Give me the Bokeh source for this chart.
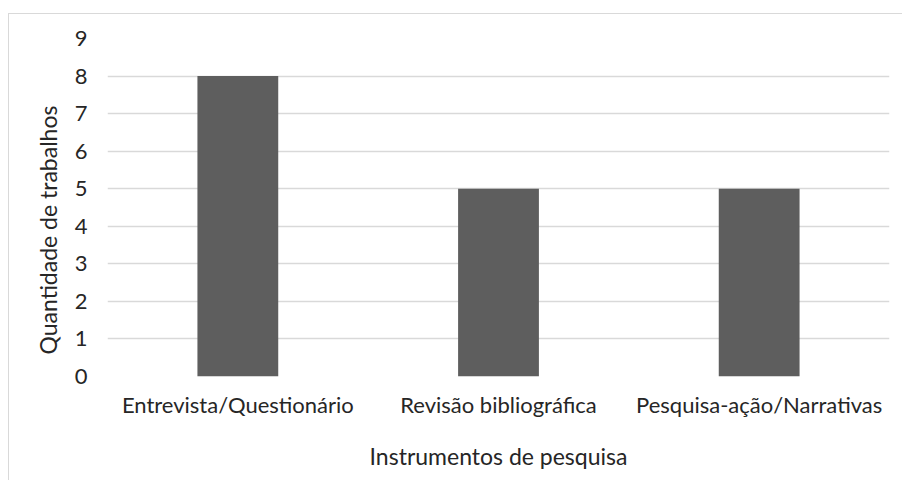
from bokeh.plotting import figure
from bokeh.models import Range1d, FactorRange, Title
from bokeh.embed import file_html
from bokeh.resources import INLINE

categories = ["Entrevista/Questionário", "Revisão bibliográfica", "Pesquisa-ação/Narrativas"]
values = [8, 5, 5]
y_ticks = [0, 1, 2, 3, 4, 5, 6, 7, 8, 9]

FONT = "Lato"
TXT = "#262626"

p = figure(x_range=FactorRange(*categories), y_range=Range1d(0, 9),
           width=894, height=467, output_backend="svg", toolbar_location=None,
           min_border_left=98, min_border_right=14, min_border_top=24, min_border_bottom=105,
           margin=(13, 0, 0, 8))
p.styles = {"border-top": "1px solid #d9d9d9", "border-left": "1px solid #d9d9d9"}

p.vbar(x=categories, top=values, width=0.31, fill_color="#5e5e5e", line_color=None)

p.outline_line_color = None
p.xgrid.grid_line_color = None
p.ygrid.grid_line_color = "#d9d9d9"
p.ygrid.grid_line_width = 1.5
p.yaxis.ticker = y_ticks

for ax in (p.xaxis, p.yaxis):
    ax.axis_line_color = None
    ax.major_tick_line_color = None
    ax.minor_tick_line_color = None
    ax.major_label_text_font = FONT
    ax.major_label_text_font_size = "22px"
    ax.major_label_text_color = TXT
    ax.axis_label_text_font = FONT
    ax.axis_label_text_font_size = "23px"
    ax.axis_label_text_color = TXT
    ax.axis_label_text_font_style = "normal"

p.xaxis.axis_label = "Instrumentos de pesquisa"
p.xaxis.major_label_standoff = 8
p.xaxis.axis_label_standoff = 21
p.yaxis.major_label_standoff = 14

ytitle = Title(text="Quantidade de trabalhos", align="left", offset=22, standoff=19,
               text_font=FONT, text_font_size="23px", text_color=TXT,
               text_font_style="normal")
p.add_layout(ytitle, "left")

open("out.html", "w").write(file_html(p, INLINE))
